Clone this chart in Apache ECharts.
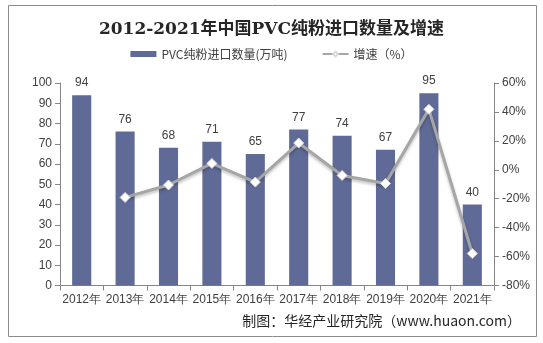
<!DOCTYPE html>
<html><head><meta charset="utf-8">
<script src="https://cdn.jsdelivr.net/npm/echarts@6/dist/echarts.min.js"></script>
<style>html,body{margin:0;padding:0;background:#fff}#c{width:543px;height:343px}</style>
</head><body><div id="c"></div>
<script>
const categories = ['2012年','2013年','2014年','2015年','2016年','2017年','2018年','2019年','2020年','2021年'];
const importVolume = [94, 76, 68, 71, 65, 77, 74, 67, 95, 40];
const growthRate = [null, -19.1, -10.5, 4.4, -8.5, 18.5, -3.9, -9.5, 41.8, -57.9];
const leftTicks = [0, 100, 10];
const rightTicks = [-80, 60, 20];

const font = '"Liberation Sans", Arial, sans-serif';
const cjk = '"Noto Sans CJK SC", sans-serif';
const chart = echarts.init(document.getElementById('c'));
chart.setOption({
  animation: false,
  backgroundColor: '#fff',
  title: {
    text: '2012-2021年中国PVC纯粉进口数量及增速',
    left: 'center', top: 16,
    textStyle: {fontFamily: '"DejaVu Serif", "Noto Sans CJK SC", serif', fontSize: 17, fontWeight: 'bold', color: '#262626'}
  },
  graphic: [
    {type: 'rect', shape: {x: 8.5, y: 5.5, width: 528, height: 331}, style: {fill: 'none', stroke: '#8c8c8c', lineWidth: 1}, silent: true},
    {type: 'text', right: 22, top: 314, style: {text: '制图：华经产业研究院（www.huaon.com）', font: '14px ' + cjk, fill: '#262626'}}
  ],
  legend: {
    top: 43, left: 'center', itemGap: 34, itemWidth: 26, itemHeight: 6,
    textStyle: {fontFamily: cjk, fontSize: 12, color: '#404040'},
    data: [
      {name: 'PVC纯粉进口数量(万吨)', icon: 'rect'},
      {name: '增速（%）'}
    ]
  },
  grid: {left: 60, right: 49, top: 83, bottom: 57.5},
  xAxis: {
    type: 'category', data: categories,
    axisLine: {lineStyle: {color: '#868686'}},
    axisTick: {show: true, lineStyle: {color: '#868686'}},
    axisLabel: {fontFamily: font, fontSize: 12, color: '#404040', margin: 8, interval: 0}
  },
  yAxis: [
    {type: 'value', min: leftTicks[0], max: leftTicks[1], interval: leftTicks[2],
     axisLine: {show: true, lineStyle: {color: '#868686'}},
     axisTick: {show: true, lineStyle: {color: '#868686'}},
     splitLine: {show: false},
     axisLabel: {fontFamily: font, fontSize: 12, color: '#404040', margin: 8}},
    {type: 'value', min: rightTicks[0], max: rightTicks[1], interval: rightTicks[2],
     axisLine: {show: true, lineStyle: {color: '#868686'}},
     axisTick: {show: true, lineStyle: {color: '#868686'}},
     splitLine: {show: false},
     axisLabel: {fontFamily: font, fontSize: 12, color: '#404040', margin: 8, formatter: '{value}%'}}
  ],
  series: [
    {name: 'PVC纯粉进口数量(万吨)', type: 'bar', data: importVolume, barWidth: '44%',
     itemStyle: {color: '#5f6a96'},
     label: {show: true, position: 'top', distance: 6, fontFamily: font, fontSize: 12, color: '#404040'}},
    {name: '增速（%）', type: 'line', yAxisIndex: 1, data: growthRate,
     symbol: 'diamond', symbolSize: 10, showSymbol: true,
     lineStyle: {color: '#a6a6a6', width: 3, shadowColor: 'rgba(0,0,0,0.25)', shadowBlur: 3, shadowOffsetY: 2},
     itemStyle: {color: '#ffffff', borderColor: '#d9d9d9', borderWidth: 1}}
  ]
});
</script></body></html>
